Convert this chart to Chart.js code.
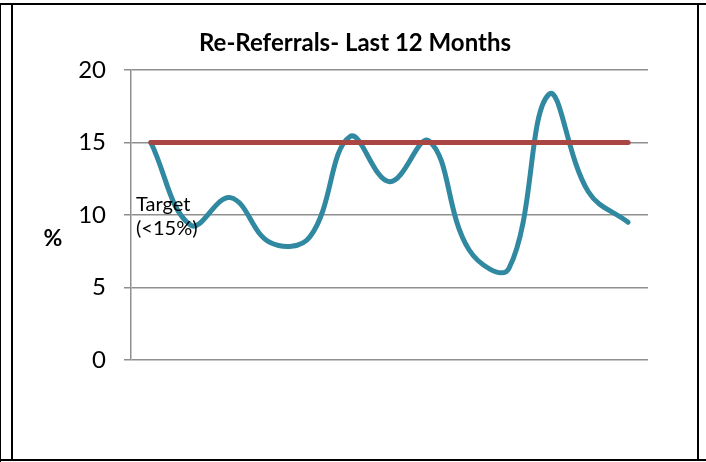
<!DOCTYPE html>
<html>
<head>
    <title>Re-Referrals - Last 12 Months</title>
    <script src="https://cdn.jsdelivr.net/npm/chart.js"></script>
    <style>
        body { margin: 0; background: #fff; }
        #wrap { position: relative; width: 706px; height: 462px; }
        .ln { position: absolute; background: #000; }
    </style>
</head>
<body>
<div id="wrap">
    <canvas id="refChart" width="706" height="462"></canvas>
    <div class="ln" style="left:0;top:3px;width:706px;height:2px"></div>
    <div class="ln" style="left:0;top:459px;width:706px;height:2px"></div>
    <div class="ln" style="left:0;top:3px;width:1px;height:459px"></div>
    <div class="ln" style="left:11px;top:3px;width:2px;height:458px"></div>
    <div class="ln" style="left:697px;top:3px;width:2px;height:458px"></div>
</div>

<script>
    // 13 monthly points (no x labels shown on the chart)
    const months = ['1', '2', '3', '4', '5', '6', '7', '8', '9', '10', '11', '12', '13'];
    const reReferrals = [15, 9.3, 11.2, 8.1, 8.5, 15.4, 12.3, 15.1, 7.6, 6.3, 18.3, 11.6, 9.5];
    const target = [15, 15, 15, 15, 15, 15, 15, 15, 15, 15, 15, 15, 15];
    const yTicks = [0, 5, 10, 15, 20];
    const chartTitle = 'Re-Referrals- Last 12 Months';

    const FONT = 'Lato, "Open Sans", sans-serif';

    // title, "%" axis label and the target note
    const notes = {
        id: 'notes',
        afterDraw(chart) {
            const ctx = chart.ctx;
            ctx.save();
            ctx.fillStyle = '#000';
            ctx.textAlign = 'center';
            ctx.textBaseline = 'middle';
            ctx.font = 'bold 24px ' + FONT;
            ctx.fillText(chartTitle, 355, 43);
            ctx.font = 'bold 23px ' + FONT;
            ctx.fillText('%', 53, 239);
            ctx.font = '20px ' + FONT;
            ctx.textAlign = 'left';
            ctx.textBaseline = 'alphabetic';
            ctx.fillText('Target', 136, 211);
            ctx.fillText('(<15%)', 136, 235);
            ctx.restore();
        }
    };

    const refChart = new Chart(document.getElementById('refChart').getContext('2d'), {
        type: 'line',
        data: {
            labels: months,
            datasets: [{
                label: 'Target',
                data: target,
                borderColor: '#A94542',
                borderWidth: 5,
                borderCapStyle: 'round',
                pointRadius: 0,
                tension: 0
            }, {
                label: 'Re-Referrals %',
                data: reReferrals,
                borderColor: '#3089A0',
                borderWidth: 5,
                borderCapStyle: 'round',
                pointRadius: 0,
                tension: 0.4
            }]
        },
        options: {
            responsive: false,
            animation: false,
            layout: { padding: { left: 0, right: 58, top: 70, bottom: 102 } },
            plugins: {
                legend: { display: false },
                tooltip: { enabled: false },
                title: { display: false }
            },
            scales: {
                x: {
                    display: false,
                    offset: true
                },
                y: {
                    min: 0,
                    max: 20,
                    afterFit(scale) { scale.width = 131; },
                    afterBuildTicks(scale) { scale.ticks = yTicks.map(v => ({ value: v })); },
                    ticks: {
                        color: '#000',
                        padding: 18,
                        font: { family: FONT, size: 24 }
                    },
                    grid: {
                        color: '#8f8f8f',
                        lineWidth: 1.5,
                        tickLength: 7
                    },
                    border: { color: '#8f8f8f', width: 1.5 }
                }
            }
        },
        plugins: [notes]
    });
</script>
</body>
</html>
